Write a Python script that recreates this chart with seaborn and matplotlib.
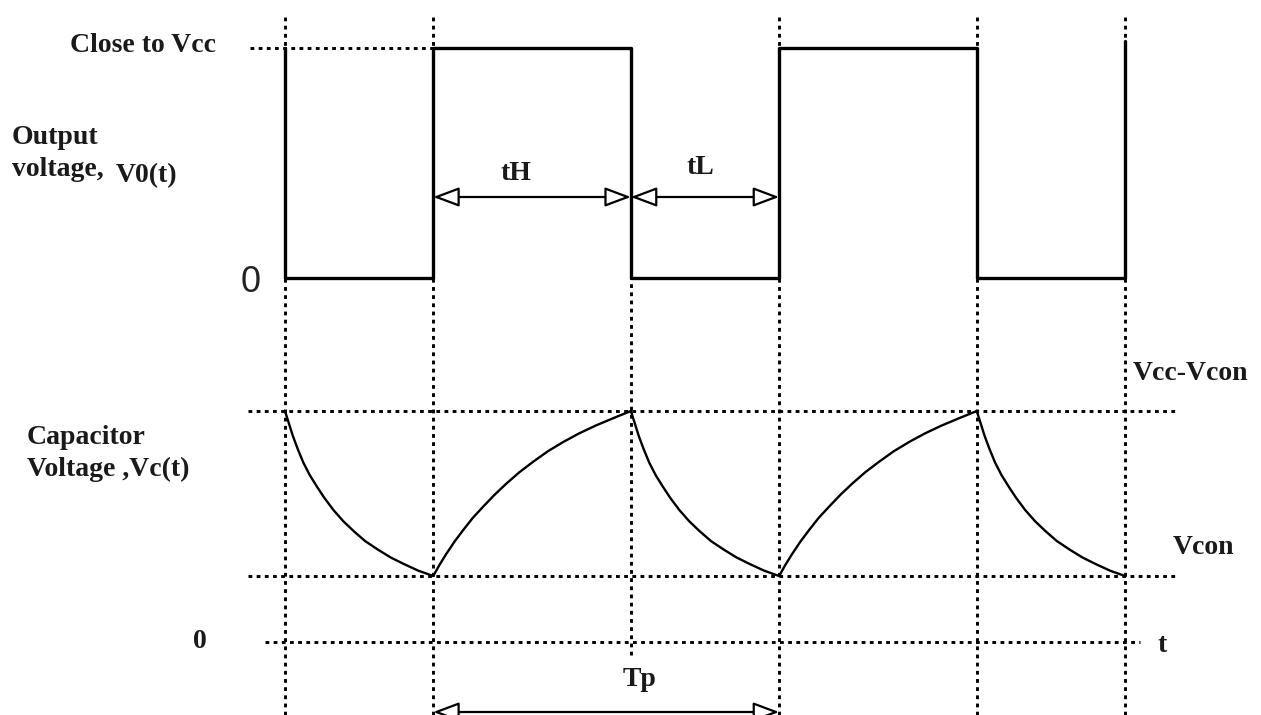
import pandas as pd
import seaborn as sns
import matplotlib.pyplot as plt

# Output square wave: tL = 3, tH = 4 time units
edge_times = [0, 3, 7, 10, 14, 17]
out_times = [0, 0, 3, 3, 7, 7, 10, 10, 14, 14, 17, 17]
out_levels = [1, 0, 0, 1, 1, 0, 0, 1, 1, 0, 0, 1.03]

# Capacitor levels
v_con = 1.0
v_top = 3.5   # Vcc - Vcon

# One discharge (output low) and one charge (output high)
dis_dt = [0, 0.08, 0.16, 0.26, 0.37, 0.5, 0.65, 0.8, 0.98, 1.18, 1.39, 1.62, 1.88, 2.14, 2.41, 2.7, 3.0]
dis_v = [3.5, 3.31, 3.12, 2.92, 2.72, 2.53, 2.35, 2.18, 2.0, 1.83, 1.68, 1.53, 1.4, 1.28, 1.18, 1.08, 1.0]
chg_dt = [0, 0.12, 0.26, 0.43, 0.61, 0.8, 1.01, 1.24, 1.48, 1.74, 2.02, 2.32, 2.63, 2.95, 3.29, 3.64, 4.0]
chg_v = [1.0, 1.16, 1.33, 1.52, 1.7, 1.88, 2.05, 2.23, 2.4, 2.57, 2.73, 2.89, 3.03, 3.16, 3.28, 3.39, 3.5]
dis_starts = [0, 7, 14]
chg_starts = [3, 10]

# build capacitor trace segments
rows = []
for k, t0 in enumerate(dis_starts):
    rows += [(f'd{k}', t0 + dt, v) for dt, v in zip(dis_dt, dis_v)]
for k, t0 in enumerate(chg_starts):
    rows += [(f'c{k}', t0 + dt, v) for dt, v in zip(chg_dt, chg_v)]
cap = pd.DataFrame(rows, columns=['seg', 't', 'v'])
out = pd.DataFrame({'t': out_times, 'v': out_levels})

sns.set_theme(style='white')
plt.rcParams['font.family'] = ['Liberation Serif', 'DejaVu Serif']

W, H = 1261, 715
fig = plt.figure(figsize=(W / 100, H / 100), dpi=100)

# layout in pixels
X0, X1 = 285, 1125          # t = 0 and t = 17
OUT_HI, OUT_LO = 48, 278
CAP_TOP, CAP_ZERO = 411, 642

ax_out = fig.add_axes([X0 / W, (H - OUT_LO) / H, (X1 - X0) / W, (OUT_LO - OUT_HI) / H])
ax_cap = fig.add_axes([X0 / W, (H - CAP_ZERO) / H, (X1 - X0) / W, (CAP_ZERO - CAP_TOP) / H])
for ax in (ax_out, ax_cap):
    ax.patch.set_alpha(0)


def tx(px):
    return (px - X0) / (X1 - X0) * 17


def cap_frac(py):
    return (CAP_ZERO - py) / (CAP_ZERO - CAP_TOP)


dot = dict(color='black', lw=2.1, linestyle=(0, (1.3, 1.5)), clip_on=False, zorder=1)

# vertical guides
for t in edge_times:
    if t == 7:
        ax_cap.axvline(t, ymin=cap_frac(655), ymax=cap_frac(OUT_LO), **dot)
    else:
        ax_cap.axvline(t, ymin=cap_frac(715), ymax=cap_frac(13), **dot)

# horizontal guides
ax_out.hlines(1, tx(250), edge_times[1], **dot)
ax_cap.hlines([v_top, v_con], tx(248), tx(1175), **dot)
ax_cap.hlines(0, tx(265), tx(1140), **dot)

# traces
sns.lineplot(data=out, x='t', y='v', sort=False, estimator=None, color='black',
             lw=2.4, ax=ax_out, clip_on=False, zorder=3)
sns.lineplot(data=cap, x='t', y='v', units='seg', sort=False, estimator=None,
             color='black', lw=1.7, ax=ax_cap, clip_on=False, zorder=3)
for ax in (ax_out, ax_cap):
    ax.set_xlim(0, 17)
    ax.set_axis_off()
ax_out.set_ylim(0, 1)
ax_cap.set_ylim(0, v_top)

# dimension arrows
arr = dict(arrowstyle='<|-|>,head_length=0.8,head_width=0.3', fc='white', ec='black',
           lw=1.6, mutation_scale=20, shrinkA=0, shrinkB=0)
y_arr = (OUT_LO - 197) / (OUT_LO - OUT_HI)
ax_out.annotate('', xy=(edge_times[2], y_arr), xytext=(edge_times[1], y_arr),
                arrowprops=arr, annotation_clip=False)
ax_out.annotate('', xy=(edge_times[3], y_arr), xytext=(edge_times[2], y_arr),
                arrowprops=arr, annotation_clip=False)
y_tp = cap_frac(712) * v_top
ax_cap.annotate('', xy=(edge_times[3], y_tp), xytext=(edge_times[1], y_tp),
                arrowprops=arr, annotation_clip=False)


def label(px, py, s, size=20, ha='center', **kw):
    fig.text(px / W, 1 - py / H, s, ha=ha, va='center', fontsize=size,
             fontweight='bold', color='#1a1a1a', **kw)


label(143, 45, 'Close to Vcc')
label(12, 137, 'Output', ha='left')
label(12, 170, 'voltage,', ha='left')
label(116, 176, 'V0(t)', ha='left')
fig.text(251 / W, 1 - 282 / H, '0', ha='center', va='center', fontsize=26,
         color='#222222', family=['Liberation Sans', 'DejaVu Sans'])
label(516, 174, 'tH')
label(700, 168, 'tL')
label(1133, 374, 'Vcc-Vcon', ha='left')
label(27, 437, 'Capacitor', ha='left')
label(27, 469, 'Voltage ,Vc(t)', ha='left')
label(1173, 547, 'Vcon', ha='left')
label(200, 642, '0')
label(1158, 646, 't', ha='left')
label(640, 680, 'Tp')

fig.savefig('out.png', dpi=100, facecolor='white')
